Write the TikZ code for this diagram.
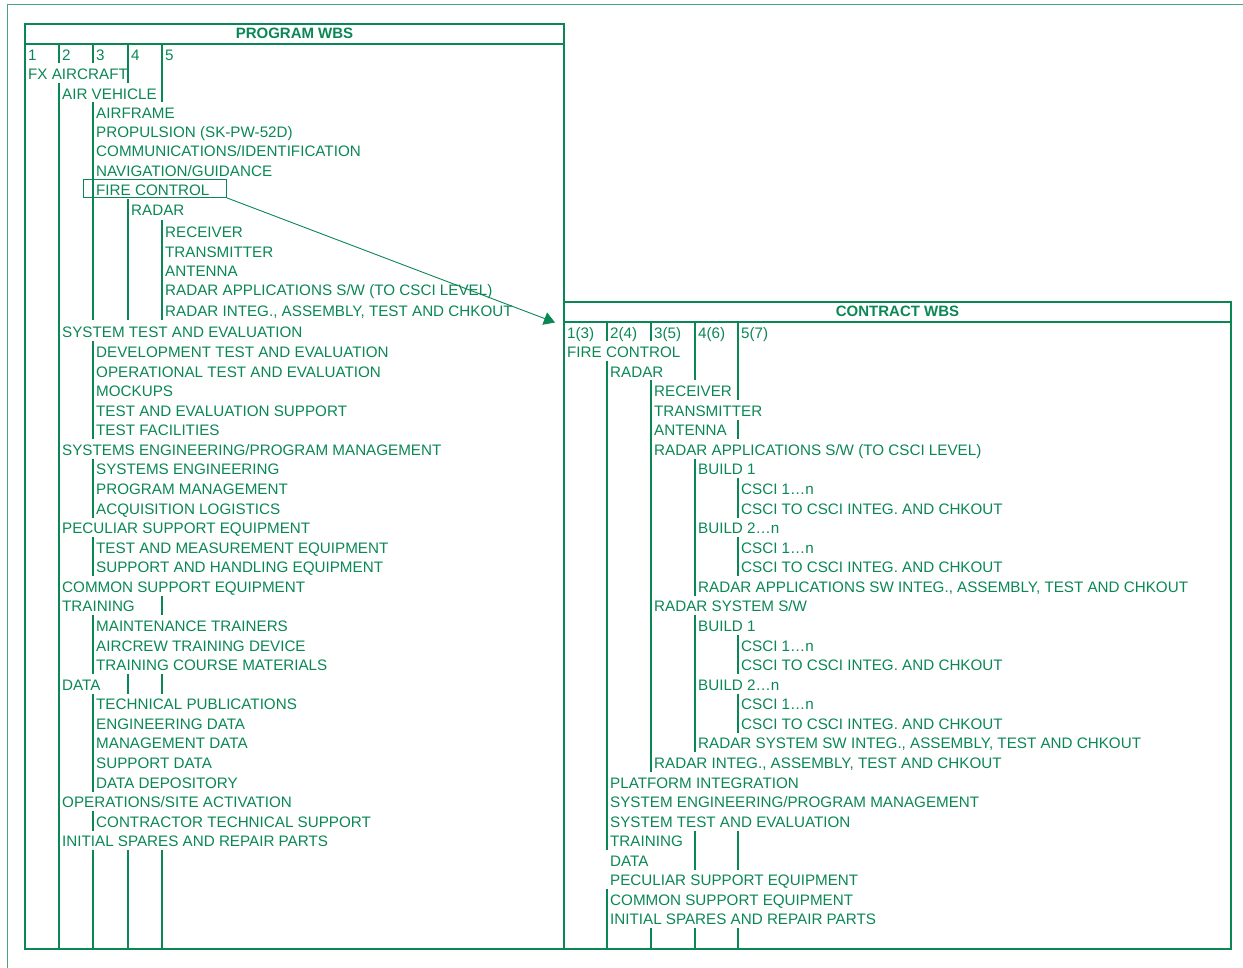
\documentclass[tikz,border=0pt]{standalone}
\usepackage{fontspec}
\setmainfont{Liberation Sans}
\usetikzlibrary{arrows.meta}
\definecolor{wbs}{RGB}{10,135,85}
\definecolor{wbsframe}{RGB}{70,165,125}
\begin{document}
\begin{tikzpicture}[x=1pt,y=-1pt,
  lbl/.style={anchor=west, inner xsep=0pt, inner ysep=0pt, text height=10.8pt, text depth=0pt,
              yshift=-0.8pt, font=\fontsize{15.2}{18}\selectfont, text=wbs},
  headlbl/.style={anchor=center, inner sep=0pt, text height=10.8pt, text depth=0pt,
              font=\fontsize{15}{18}\selectfont\bfseries, text=wbs},
  boxline/.style={draw=wbs, line width=2pt},
  rule/.style={draw=wbs, line width=1.5pt},
  thinframe/.style={draw=wbsframe, line width=1pt},
  conn/.style={draw=wbs, line width=0.9pt, -{Triangle[length=11pt,width=13pt]}}]
\useasboundingbox (0,0) rectangle (1243,968);

% outer frame
\draw[thinframe] (7,968) -- (7,5) -- (1243,5);

% ---------------- PROGRAM WBS ----------------
\draw[boxline] (25,24) rectangle (564,949);
\draw[boxline] (25,44) -- (564,44);
\node[headlbl] (phead) at (294.5,33) {PROGRAM WBS};

% level rules
\foreach \a/\b in {44/63.5, 83/949} \draw[rule] (59,\a) -- (59,\b);
\foreach \a/\b in {44/63.5, 102.5/320.5, 341/439, 458.5/517.5, 537/576, 615/674, 693.5/791.5, 811/830.5, 850/949}
  \draw[rule] (93,\a) -- (93,\b);
\foreach \a/\b in {44/83, 199/320.5, 674/693.5, 850/949} \draw[rule] (128,\a) -- (128,\b);
\foreach \a/\b in {44/102.5, 220/320.5, 595.5/615, 674/693.5, 850/949} \draw[rule] (162,\a) -- (162,\b);

\node[lbl] (pn1) at (28,54) {1};
\node[lbl] (pn2) at (62,54) {2};
\node[lbl] (pn3) at (96,54) {3};
\node[lbl] (pn4) at (131,54) {4};
\node[lbl] (pn5) at (165,54) {5};
\node[lbl] (p1) at (28,73) {FX AIRCRAFT};
\node[lbl] (p2) at (62,93) {AIR VEHICLE};
\node[lbl] (p3) at (96,112) {AIRFRAME};
\node[lbl] (p4) at (96,131) {PROPULSION (SK-PW-52D)};
\node[lbl] (p5) at (96,150) {COMMUNICATIONS/IDENTIFICATION};
\node[lbl] (p6) at (96,170) {NAVIGATION/GUIDANCE};
\node[lbl] (p7) at (96,189) {FIRE CONTROL};
\node[lbl] (p8) at (131,209) {RADAR};
\node[lbl] (p9) at (165,231) {RECEIVER};
\node[lbl] (p10) at (165,251) {TRANSMITTER};
\node[lbl] (p11) at (165,270) {ANTENNA};
\node[lbl] (p12) at (165,289) {RADAR APPLICATIONS S/W (TO CSCI LEVEL)};
\node[lbl] (p13) at (165,310) {RADAR INTEG., ASSEMBLY, TEST AND CHKOUT};
\node[lbl] (p14) at (62,331) {SYSTEM TEST AND EVALUATION};
\node[lbl] (p15) at (96,351) {DEVELOPMENT TEST AND EVALUATION};
\node[lbl] (p16) at (96,371) {OPERATIONAL TEST AND EVALUATION};
\node[lbl] (p17) at (96,390) {MOCKUPS};
\node[lbl] (p18) at (96,410) {TEST AND EVALUATION SUPPORT};
\node[lbl] (p19) at (96,429) {TEST FACILITIES};
\node[lbl] (p20) at (62,449) {SYSTEMS ENGINEERING/PROGRAM MANAGEMENT};
\node[lbl] (p21) at (96,468) {SYSTEMS ENGINEERING};
\node[lbl] (p22) at (96,488) {PROGRAM MANAGEMENT};
\node[lbl] (p23) at (96,508) {ACQUISITION LOGISTICS};
\node[lbl] (p24) at (62,527) {PECULIAR SUPPORT EQUIPMENT};
\node[lbl] (p25) at (96,547) {TEST AND MEASUREMENT EQUIPMENT};
\node[lbl] (p26) at (96,566) {SUPPORT AND HANDLING EQUIPMENT};
\node[lbl] (p27) at (62,586) {COMMON SUPPORT EQUIPMENT};
\node[lbl] (p28) at (62,605) {TRAINING};
\node[lbl] (p29) at (96,625) {MAINTENANCE TRAINERS};
\node[lbl] (p30) at (96,645) {AIRCREW TRAINING DEVICE};
\node[lbl] (p31) at (96,664) {TRAINING COURSE MATERIALS};
\node[lbl] (p32) at (62,684) {DATA};
\node[lbl] (p33) at (96,703) {TECHNICAL PUBLICATIONS};
\node[lbl] (p34) at (96,723) {ENGINEERING DATA};
\node[lbl] (p35) at (96,742) {MANAGEMENT DATA};
\node[lbl] (p36) at (96,762) {SUPPORT DATA};
\node[lbl] (p37) at (96,782) {DATA DEPOSITORY};
\node[lbl] (p38) at (62,801) {OPERATIONS/SITE ACTIVATION};
\node[lbl] (p39) at (96,821) {CONTRACTOR TECHNICAL SUPPORT};
\node[lbl] (p40) at (62,840) {INITIAL SPARES AND REPAIR PARTS};

% highlight of the element carried over to the contract
\node[draw=wbs, line width=0.9pt, anchor=north west, inner sep=0pt,
      minimum width=143pt, minimum height=18pt] (fcbox) at (83,179) {};

% ---------------- CONTRACT WBS ----------------
\draw[boxline] (564,302) rectangle (1231,949);
\draw[boxline] (564,322) -- (1231,322);
\node[headlbl] (chead) at (897.5,311) {CONTRACT WBS};

\foreach \a/\b in {322/341.5, 361/850, 889/949} \draw[rule] (607,\a) -- (607,\b);
\foreach \a/\b in {322/341.5, 380.5/772, 928/949} \draw[rule] (651,\a) -- (651,\b);
\foreach \a/\b in {322/380.5, 458.5/595.5, 615/752, 830.5/869.5, 928/949} \draw[rule] (695,\a) -- (695,\b);
\foreach \a/\b in {322/400, 419.5/439, 478/517.5, 537/576, 635/674, 693.5/732.5, 830.5/869.5, 928/949}
  \draw[rule] (738,\a) -- (738,\b);

\node[lbl] (cn1) at (567,332) {1(3)};
\node[lbl] (cn2) at (610,332) {2(4)};
\node[lbl] (cn3) at (654,332) {3(5)};
\node[lbl] (cn4) at (698,332) {4(6)};
\node[lbl] (cn5) at (741,332) {5(7)};
\node[lbl] (c1) at (567,351) {FIRE CONTROL};
\node[lbl] (c2) at (610,371) {RADAR};
\node[lbl] (c3) at (654,390) {RECEIVER};
\node[lbl] (c4) at (654,410) {TRANSMITTER};
\node[lbl] (c5) at (654,429) {ANTENNA};
\node[lbl] (c6) at (654,449) {RADAR APPLICATIONS S/W (TO CSCI LEVEL)};
\node[lbl] (c7) at (698,468) {BUILD 1};
\node[lbl] (c8) at (741,488) {CSCI 1…n};
\node[lbl] (c9) at (741,508) {CSCI TO CSCI INTEG. AND CHKOUT};
\node[lbl] (c10) at (698,527) {BUILD 2…n};
\node[lbl] (c11) at (741,547) {CSCI 1…n};
\node[lbl] (c12) at (741,566) {CSCI TO CSCI INTEG. AND CHKOUT};
\node[lbl] (c13) at (698,586) {RADAR APPLICATIONS SW INTEG., ASSEMBLY, TEST AND CHKOUT};
\node[lbl] (c14) at (654,605) {RADAR SYSTEM S/W};
\node[lbl] (c15) at (698,625) {BUILD 1};
\node[lbl] (c16) at (741,645) {CSCI 1…n};
\node[lbl] (c17) at (741,664) {CSCI TO CSCI INTEG. AND CHKOUT};
\node[lbl] (c18) at (698,684) {BUILD 2…n};
\node[lbl] (c19) at (741,703) {CSCI 1…n};
\node[lbl] (c20) at (741,723) {CSCI TO CSCI INTEG. AND CHKOUT};
\node[lbl] (c21) at (698,742) {RADAR SYSTEM SW INTEG., ASSEMBLY, TEST AND CHKOUT};
\node[lbl] (c22) at (654,762) {RADAR INTEG., ASSEMBLY, TEST AND CHKOUT};
\node[lbl] (c23) at (610,782) {PLATFORM INTEGRATION};
\node[lbl] (c24) at (610,801) {SYSTEM ENGINEERING/PROGRAM MANAGEMENT};
\node[lbl] (c25) at (610,821) {SYSTEM TEST AND EVALUATION};
\node[lbl] (c26) at (610,840) {TRAINING};
\node[lbl] (c27) at (610,860) {DATA};
\node[lbl] (c28) at (610,879) {PECULIAR SUPPORT EQUIPMENT};
\node[lbl] (c29) at (610,899) {COMMON SUPPORT EQUIPMENT};
\node[lbl] (c30) at (610,918) {INITIAL SPARES AND REPAIR PARTS};

% mapping arrow from the program element to the contract tree
\coordinate (ctarget) at (555,322.5);
\draw[conn] (fcbox.south east) -- (ctarget);
\end{tikzpicture}
\end{document}
